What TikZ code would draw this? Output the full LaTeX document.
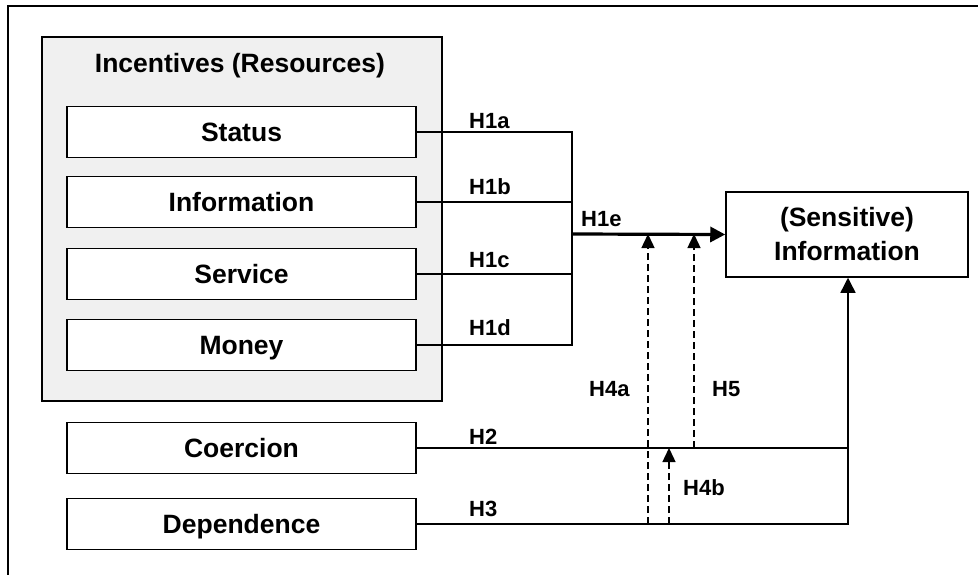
\documentclass[tikz,border=0pt]{standalone}
\usepackage{fontspec}
\setmainfont{Liberation Sans}
\usetikzlibrary{arrows.meta}
\definecolor{panelgray}{RGB}{240,240,240}
\begin{document}
\begin{tikzpicture}[x=1pt,y=-1pt,
  boxfont/.style={font=\fontsize{26.5}{34}\selectfont\bfseries},
  varbox/.style={boxfont,draw,line width=1.5pt,fill=white,minimum width=349pt,
    minimum height=51pt,inner sep=0pt,text height=19pt,text depth=0pt},
  hlabel/.style={font=\fontsize{22}{26}\selectfont\bfseries,anchor=base west,inner sep=0pt},
  link/.style={line width=1.4pt},
  hyp/.style={line width=1.4pt,dash pattern=on 7pt off 4pt},
  headarrow/.style={-{Triangle[length=15pt,width=15pt]}},
  smallhead/.style={-{Triangle[length=14pt,width=13pt]}}
]
\useasboundingbox (0,0) rectangle (978,575);

% outer frame (only its top and left edges fall on the page)
\draw[line width=1.4pt] (8,575) -- (8,6) -- (978,6);

% incentives panel with its four resources
\node[draw,fill=panelgray,line width=1.5pt,minimum width=400pt,minimum height=364pt,
  inner sep=0pt] (panel) at (242,219) {};
\node[boxfont,inner sep=0pt,text height=19pt,text depth=0pt] (title) at (240,63)
  {Incentives (Resources)};
\node[varbox] (status)  at (241.5,132) {Status};
\node[varbox] (info)    at (241.5,202) {Information};
\node[varbox] (service) at (241.5,274) {Service};
\node[varbox] (money)   at (241.5,345) {Money};

% further antecedents
\node[varbox] (coer) at (241.5,448) {Coercion};
\node[varbox] (dep)  at (241.5,524) {Dependence};

% outcome
\node[boxfont,draw,line width=1.5pt,fill=white,minimum width=242pt,minimum height=85pt,
  inner sep=0pt,align=center] (sens) at (847,234.5)
  {(Sensitive)\\Information};

% junction points
\coordinate (bus)  at (572,234);
\coordinate (join) at (848,524);
\coordinate (h4a)  at (648,524);
\coordinate (h4b)  at (669,524);
\coordinate (h5)   at (694,448);

% H1a-H1d: resources merge into H1e
\draw[link] (status.east) -- (status.east -| bus) -- (money.east -| bus) -- (money.east);
\draw[link] (info.east) -- (info.east -| bus);
\draw[link] (service.east) -- (service.east -| bus);
\draw[line width=3.2pt,headarrow] (bus) -- (sens.west);

% H2, H3: direct effects
\draw[link] (coer.east) -- (coer.east -| join);
\draw[link,headarrow] (dep.east) -- (join) -- (join |- sens.south);

% moderating paths
\draw[hyp] (dep.east) -- (h4a);
\draw[hyp,smallhead] (h4a) -- (h4a |- bus);
\draw[hyp] (coer.east) -- (h5);
\draw[hyp,smallhead] (h5) -- (h5 |- bus);
\draw[hyp,smallhead] (h4b) -- (h4b |- coer.east);

% hypothesis labels
\node[hlabel] (l1a) at (469,129) {H1a};
\node[hlabel] (l1b) at (469,195) {H1b};
\node[hlabel] (l1c) at (469,267) {H1c};
\node[hlabel] (l1d) at (469,335) {H1d};
\node[hlabel] (l1e) at (581,226) {H1e};
\node[hlabel] (l2)  at (469,444) {H2};
\node[hlabel] (l3)  at (469,516) {H3};
\node[hlabel] (l4a) at (589,396) {H4a};
\node[hlabel] (l5)  at (712,396) {H5};
\node[hlabel] (l4b) at (683,495) {H4b};
\end{tikzpicture}
\end{document}
